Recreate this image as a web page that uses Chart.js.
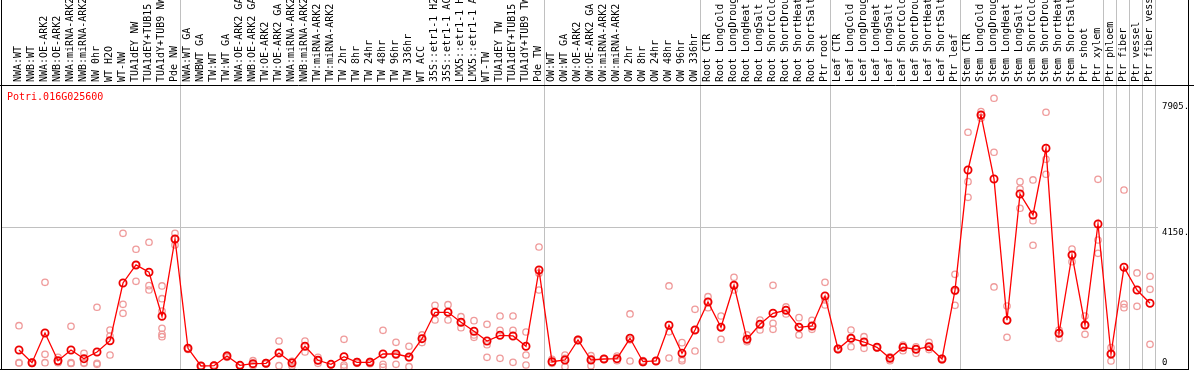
<!DOCTYPE html>
<html>
<head>
<meta charset="utf-8">
<script src="https://cdn.jsdelivr.net/npm/chart.js@4.4.1/dist/chart.umd.min.js"></script>
<style>
html,body{margin:0;padding:0;background:#fff;}
canvas{display:block;}
</style>
</head>
<body>
<canvas id="c" width="1194" height="370"></canvas>
<script>
// ---------- data ----------
const geneId = 'Potri.016G025600';

const categories = [
  'NWA:WT','NWB:WT','NWA:OE-ARK2','NWB:OE-ARK2','NWA:miRNA-ARK2','NWB:miRNA-ARK2','NW 0hr','WT H2O','WT-NW',
  'TUA1dEY NW','TUA1dEY+TUB15','TUA1dY+TUB9 NW','Pde NW',
  'NWA:WT GA','NWBWT GA','TW:WT','TW:WT GA','NWA:OE-ARK2 GA','NWB:OE-ARK2 GA','TW:OE-ARK2','TW:OE-ARK2 GA',
  'NWA:miRNA-ARK2','NWB:miRNA-ARK2','TW:miRNA-ARK2','TW:miRNA-ARK2','TW 2hr','TW 8hr','TW 24hr','TW 48hr',
  'TW 96hr','TW 336hr','WT ACC','35S::etr1-1 H2','35S::etr1-1 AC','LMX5::etr1-1 H','LMX5::etr1-1 A','WT-TW',
  'TUA1dEY TW','TUA1dEY+TUB15','TUA1dY+TUB9 TW','Pde TW',
  'OW:WT','OW:WT GA','OW:OE-ARK2','OW:OE-ARK2 GA','OW:miRNA-ARK2','OW:miRNA-ARK2','OW 2hr','OW 8hr','OW 24hr',
  'OW 48hr','OW 96hr','OW 336hr',
  'Root CTR','Root LongCold','Root LongDroug','Root LongHeat','Root LongSalt','Root ShortCold','Root ShortDrou',
  'Root ShortHeat','Root ShortSalt','Ptr root',
  'Leaf CTR','Leaf LongCold','Leaf LongDroug','Leaf LongHeat','Leaf LongSalt','Leaf ShortCold','Leaf ShortDrou',
  'Leaf ShortHeat','Leaf ShortSalt','Ptr leaf',
  'Stem CTR','Stem LongCold','Stem LongDroug','Stem LongHeat','Stem LongSalt','Stem ShortCold','Stem ShortDrou',
  'Stem ShortHeat','Stem ShortSalt','Ptr shoot','Ptr xylem',
  'Ptr phloem','Ptr fiber','Ptr vessel','Ptr fiber vess'
];

// index of the last sample in each group (group separators)
const groupEnds = [12, 40, 52, 62, 72, 83, 84, 85, 86, 87];

const means = [
  508, 128, 1015, 188, 508, 248, 448, 785, 2508, 3046, 2828, 1514, 3822,
  558, 30, 39, 328, 50, 99, 110, 418, 119, 618, 200, 80, 308, 140, 140, 388, 388, 299, 845,
  1633, 1633, 1335, 1066, 776, 946, 926, 618, 2896,
  158, 209, 806, 209, 239, 248, 857, 158, 179, 1245, 409, 1105,
  1941, 1185, 2439, 827, 1275, 1603, 1693, 1185, 1224, 2120,
  537, 857, 746, 588, 260, 588, 528, 606, 239, 2290,
  5882, 7525, 5614, 1394, 5166, 4539, 6530, 1006, 3344, 1254, 4270,
  388, 2977, 2299, 1902
];

const replicates = [
  [1233,128,119],[128,105,149],[2529,379,128],[290,128,150],[1215,128,105],[409,128,110],[1783,110,80],
  [1105,926,358],[3992,1872,1603],[3515,2559,3046],[3724,2428,2299],[2419,2039,1672,1156,976,905],[3992,3822,3643],
  [567,537,523],[30,45,20],[39,60,25],[358,290,330],[60,40,50],[188,69,40],[110,90,130],[776,39,440],
  [158,30,170],[776,448,627],[290,110,200],[80,70,90],[827,60,0],[158,110,150],[170,100,150],[1096,80,0],
  [737,80,350],[618,9,270],[956,730,850],[1842,1403,1650],[1860,1403,1640],[1502,1174,1330],[1383,887,956],
  [1275,666,290],[1523,1096,260],[1523,1096,140],[1045,358,60],[3583,2299,2800],
  [230,110,150],[358,9,260],[827,790,800],[337,39,250],[239,230,250],[328,188,230],[1583,179,810],
  [188,128,160],[179,170,190],[2419,269,1050],[726,239,188],[1723,478,1110],
  [2099,1771,1950],[1523,827,1200],[2678,2299,2440],[956,756,830],[1403,1105,1280],[2439,1305,1126],
  [1792,1583,1700],[1473,956,1190],[1394,1126,1230],[2529,1851,2000],
  [560,520,537],[1105,606,860],[905,558,750],[600,570,590],[188,300,260],[657,487,600],[409,600,528],
  [737,520,600],[209,260,239],[2768,1842,2260],
  [7008,5533,5067],[7623,7430,7520],[8023,6411,2389],[1821,887,1400],[5533,5315,4739],[5584,4369,3634],
  [7605,6202,5754],[857,1105,1006],[3523,3144,3344],[1523,976,1254],[5604,3792,3395],
  [577,179,388],[5285,1881,1771],[2807,1812],[2708,2320,678]
];

const yTickValues = [0, 4150, 7905];
const yTickLabels = ['0', '4150.', '7905.'];

// ---------- chart ----------
const MONO = "'DejaVu Sans Mono', 'Liberation Mono', monospace";
const GRID = '#c0c0c0';
const CLEAR = 'rgba(0,0,0,0)';
const LABEL_BAND = 85;   // height of the sample-name band above the plot

const meanPoints = means.map((v, i) => ({x: i, y: v}));
const repPoints = [];
replicates.forEach((arr, i) => arr.forEach(v => repPoints.push({x: i, y: v})));

const xTicks = categories.map((_, i) => ({value: i}))
  .concat(groupEnds.map(k => ({value: k + 0.4})))
  .sort((a, b) => a.value - b.value);

function zeroPadding(s) {
  s.paddingLeft = 0; s.paddingRight = 0; s.paddingTop = 0; s.paddingBottom = 0;
}

const framePlugin = {
  id: 'frame',
  afterDraw(chart) {
    const {ctx, chartArea} = chart;
    const yScale = chart.scales.y;
    const W = chart.width;
    ctx.save();
    ctx.strokeStyle = '#000';
    ctx.lineWidth = 1;
    ctx.beginPath();
    const l = chartArea.left - 0.5, r = yScale.right + 0.5, b = chartArea.bottom + 0.5;
    ctx.moveTo(l, 0); ctx.lineTo(l, chart.height);
    ctx.moveTo(r, 0); ctx.lineTo(r, chart.height);
    ctx.moveTo(0, LABEL_BAND + 0.5); ctx.lineTo(W, LABEL_BAND + 0.5);
    ctx.moveTo(0, b); ctx.lineTo(r, b);
    ctx.stroke();
    ctx.fillStyle = '#ff0000';
    ctx.font = '10px ' + MONO;
    ctx.textBaseline = 'middle';
    ctx.textAlign = 'left';
    ctx.fillText(geneId, chartArea.left + 5, LABEL_BAND + 12);
    ctx.restore();
  }
};

new Chart(document.getElementById('c'), {
  type: 'scatter',
  data: {
    datasets: [
      {
        data: meanPoints,
        showLine: true,
        borderColor: '#ff0000',
        borderWidth: 1.3,
        pointRadius: 3.6,
        pointBorderWidth: 1.8,
        pointBorderColor: '#ee0000',
        pointBackgroundColor: CLEAR,
        order: 0
      },
      {
        data: repPoints,
        showLine: false,
        pointRadius: 3.2,
        pointBorderWidth: 1.3,
        pointBorderColor: '#ef9a9a',
        pointBackgroundColor: CLEAR,
        order: 1
      }
    ]
  },
  options: {
    responsive: false,
    animation: false,
    devicePixelRatio: 1,
    layout: {autoPadding: false, padding: {left: 2, right: 6, top: 0, bottom: 1}},
    plugins: {legend: {display: false}, tooltip: {enabled: false}},
    scales: {
      x: {
        type: 'linear',
        position: 'top',
        min: -17 / 13,
        max: -17 / 13 + 1156 / 13,
        afterBuildTicks: s => { s.ticks = xTicks.map(t => ({value: t.value})); },
        afterFit: s => { s.height = 0; zeroPadding(s); },
        grid: {
          drawTicks: false,
          lineWidth: 1,
          color: c => (c.tick && !Number.isInteger(c.tick.value)) ? GRID : CLEAR
        },
        border: {display: false},
        ticks: {
          autoSkip: false,
          minRotation: 90,
          maxRotation: 90,
          mirror: true,
          padding: 82,
          labelOffset: -1,
          color: '#000',
          font: {family: MONO, size: 10},
          callback: v => Number.isInteger(v) ? categories[v] : ''
        }
      },
      y: {
        type: 'linear',
        position: 'right',
        min: -60,
        max: 10957,
        afterBuildTicks: s => { s.ticks = yTickValues.map(v => ({value: v})); },
        afterFit: s => { s.width = 30; zeroPadding(s); },
        grid: {
          drawTicks: false,
          lineWidth: 1,
          color: c => (c.tick && c.tick.value === yTickValues[1]) ? GRID : CLEAR
        },
        border: {display: false},
        ticks: {
          padding: 4,
          color: '#000',
          font: {family: MONO, size: 9, lineHeight: 1},
          callback: v => {
            const t = yTickLabels[yTickValues.indexOf(v)];
            return v === 0 ? [t, ''] : ['', t];
          }
        }
      }
    }
  },
  plugins: [framePlugin]
});
</script>
</body>
</html>
